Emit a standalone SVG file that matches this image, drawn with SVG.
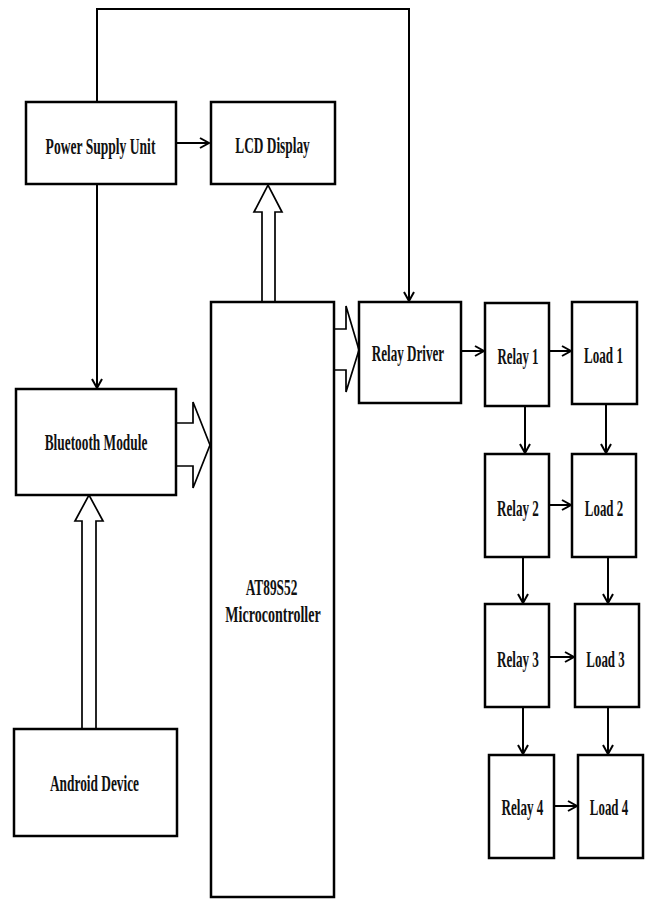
<svg xmlns="http://www.w3.org/2000/svg" width="646" height="899" viewBox="0 0 646 899">
<style>
.box{fill:#fff;stroke:#000;stroke-width:2.5}
.lbl{font-family:"Liberation Serif","Times New Roman",serif;font-weight:bold;font-size:23px;fill:#111;text-anchor:middle}
.ln{fill:none;stroke:#000;stroke-width:2}
.hol{fill:#fff;stroke:#000;stroke-width:1.7;stroke-linejoin:miter}
</style>
<defs>
<marker id="ah" markerWidth="12" markerHeight="12" refX="10" refY="6" orient="auto" markerUnits="userSpaceOnUse">
<path d="M1,1 L10,6 L1,11" fill="none" stroke="#000" stroke-width="2"/>
</marker>
</defs>
<g id="connectors">
<polyline class="ln" points="97,102 97,9 409,9 409,301" marker-end="url(#ah)"/>
<line class="ln" x1="97" y1="184" x2="97" y2="388" marker-end="url(#ah)"/>
<line class="ln" x1="176" y1="143" x2="209" y2="143" marker-end="url(#ah)"/>
<line class="ln" x1="461" y1="351" x2="484" y2="351" marker-end="url(#ah)"/>
<line class="ln" x1="549" y1="351" x2="571" y2="351" marker-end="url(#ah)"/>
<line class="ln" x1="525" y1="406" x2="525" y2="453" marker-end="url(#ah)"/>
<line class="ln" x1="606" y1="404" x2="606" y2="453" marker-end="url(#ah)"/>
<line class="ln" x1="549" y1="505" x2="571" y2="505" marker-end="url(#ah)"/>
<line class="ln" x1="523" y1="557" x2="523" y2="603" marker-end="url(#ah)"/>
<line class="ln" x1="608" y1="557" x2="608" y2="603" marker-end="url(#ah)"/>
<line class="ln" x1="549" y1="657" x2="574" y2="657" marker-end="url(#ah)"/>
<line class="ln" x1="523" y1="707" x2="523" y2="754" marker-end="url(#ah)"/>
<line class="ln" x1="608" y1="707" x2="608" y2="754" marker-end="url(#ah)"/>
<line class="ln" x1="554" y1="806" x2="577" y2="806" marker-end="url(#ah)"/>
<polyline class="hol" points="262,302 262,212 254,212 268,185 282,212 275,212 275,302"/>
<polyline class="hol" points="334,329 346,329 346,306 359,350 346,392 346,370 334,370"/>
<polyline class="hol" points="176,423 193,423 193,402 210,445 193,488 193,466 176,466"/>
<polyline class="hol" points="82,729 82,521 75,521 89,495 103,521 96,521 96,729"/>
</g>
<g id="psu"><rect class="box" x="26" y="102" width="150" height="82"/><text class="lbl" transform="translate(100.5,154) scale(0.59,1)">Power Supply Unit</text></g>
<g id="lcd"><rect class="box" x="211" y="102" width="124" height="82"/><text class="lbl" transform="translate(272.5,153) scale(0.58,1)">LCD Display</text></g>
<g id="mcu"><rect class="box" x="211" y="302" width="123" height="595"/><text class="lbl" transform="translate(271.5,595) scale(0.58,1)">AT89S52</text><text class="lbl" transform="translate(273,622) scale(0.61,1)">Microcontroller</text></g>
<g id="bluetooth"><rect class="box" x="16" y="389" width="160" height="106"/><text class="lbl" transform="translate(96,450) scale(0.58,1)">Bluetooth Module</text></g>
<g id="android"><rect class="box" x="14" y="729" width="163" height="107"/><text class="lbl" transform="translate(94.5,791) scale(0.58,1)">Android Device</text></g>
<g id="relaydriver"><rect class="box" x="359" y="302" width="102" height="101"/><text class="lbl" transform="translate(408,361) scale(0.57,1)">Relay Driver</text></g>
<g id="relay1"><rect class="box" x="485" y="303" width="64" height="103"/><text class="lbl" transform="translate(518,364) scale(0.56,1)">Relay 1</text></g>
<g id="load1"><rect class="box" x="572" y="302" width="65" height="102"/><text class="lbl" transform="translate(603.5,363) scale(0.57,1)">Load 1</text></g>
<g id="relay2"><rect class="box" x="485" y="454" width="64" height="103"/><text class="lbl" transform="translate(518,516) scale(0.57,1)">Relay 2</text></g>
<g id="load2"><rect class="box" x="572" y="454" width="64" height="103"/><text class="lbl" transform="translate(604,516) scale(0.56,1)">Load 2</text></g>
<g id="relay3"><rect class="box" x="485" y="604" width="64" height="103"/><text class="lbl" transform="translate(518,667) scale(0.57,1)">Relay 3</text></g>
<g id="load3"><rect class="box" x="575" y="604" width="64" height="103"/><text class="lbl" transform="translate(605.5,667) scale(0.56,1)">Load 3</text></g>
<g id="relay4"><rect class="box" x="489" y="755" width="65" height="103"/><text class="lbl" transform="translate(522.5,815) scale(0.57,1)">Relay 4</text></g>
<g id="load4"><rect class="box" x="578" y="755" width="65" height="103"/><text class="lbl" transform="translate(609,815) scale(0.56,1)">Load 4</text></g>
</svg>
